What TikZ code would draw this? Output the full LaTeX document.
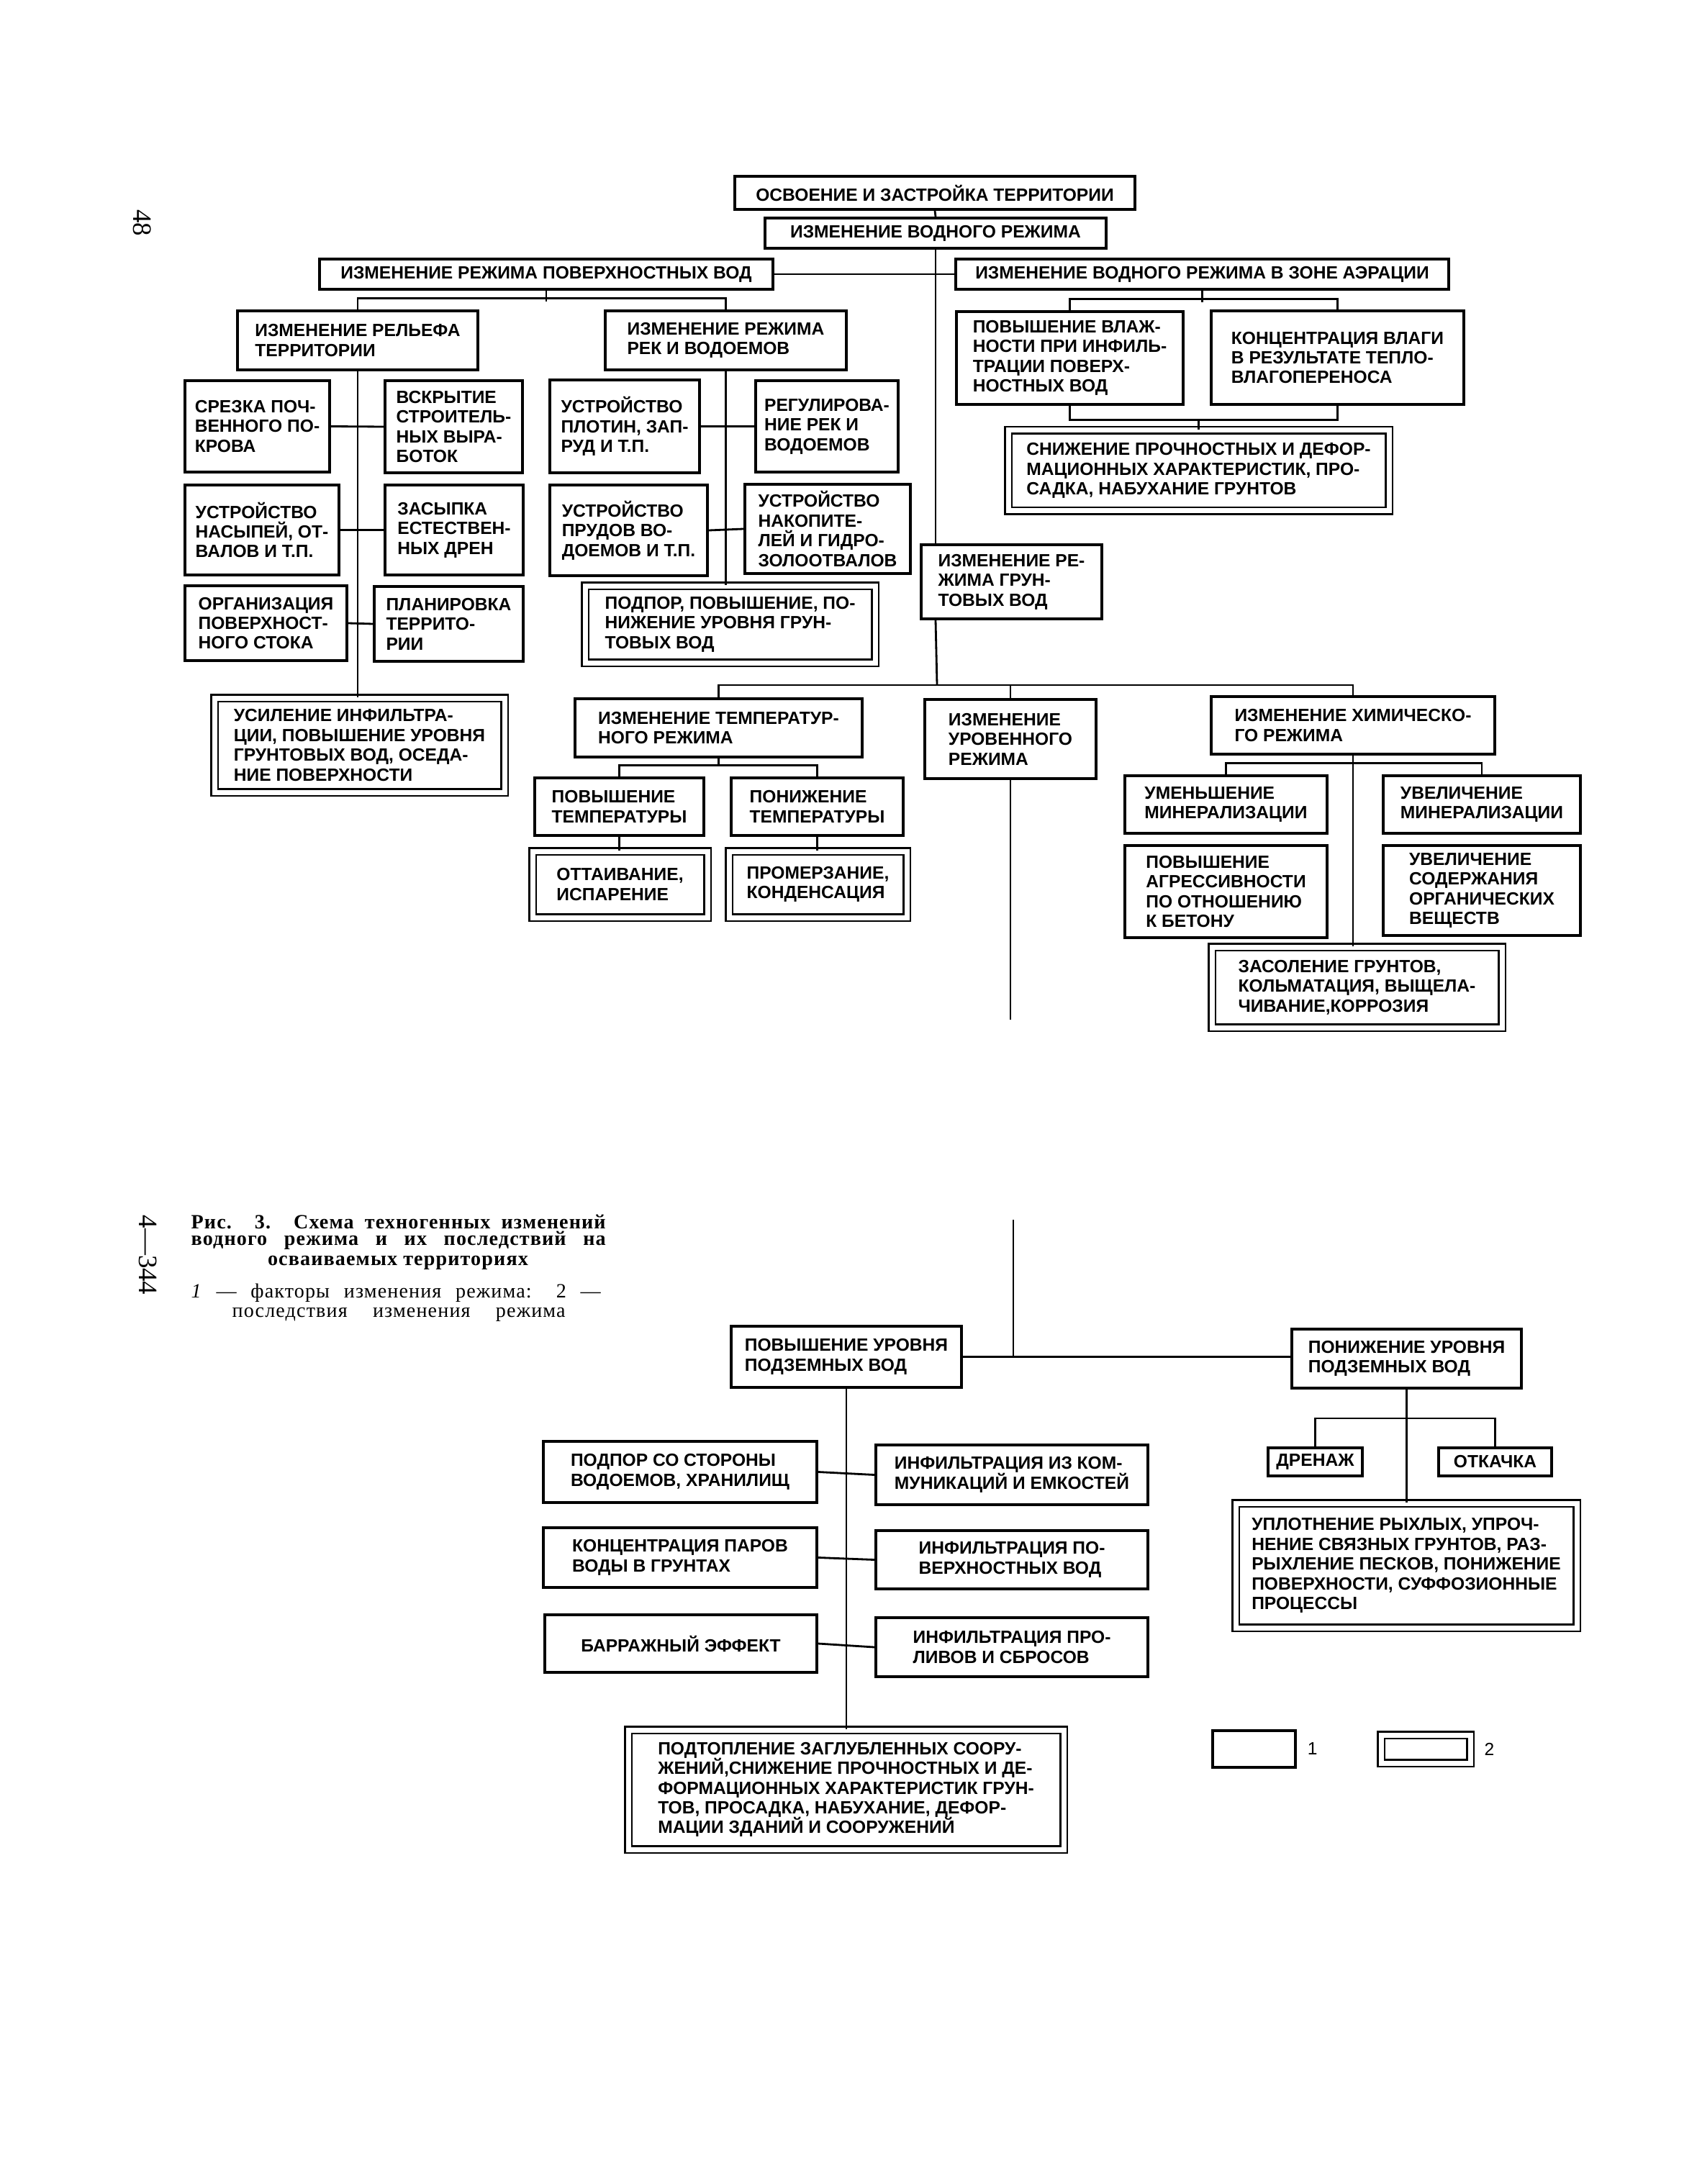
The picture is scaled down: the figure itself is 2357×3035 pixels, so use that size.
\documentclass[tikz,border=0pt]{standalone}
\usepackage{fontspec}
\setmainfont{Liberation Serif}
\newfontfamily\boxfont{Liberation Sans}
\newfontfamily\capfont[LetterSpace=4,Ligatures=TeX]{Liberation Serif}
\usetikzlibrary{calc}
\tikzset{
  fac/.style={draw,line width=1.2pt,fill=white,align=left,inner sep=0pt,
    font=\boxfont\bfseries\fontsize{7}{7.8}\selectfont},
  csq/.style={fac,line width=0.7pt,double,double distance=0.7mm},
  link/.style={line width=0.8pt},
  capline/.style={anchor=base west,inner sep=0pt,font=\capfont\fontsize{8}{9}\selectfont},
}
% single box: name, x1, y1, x2, y2, text
\newcommand{\bxf}[6]{%
  \pgfmathsetmacro{\bxw}{#4-#2}\pgfmathsetmacro{\bxh}{#5-#3}%
  \node[fac,minimum width=\bxw*0.1mm,minimum height=\bxh*0.1mm] (#1) at ({(#2+#4)/2},{(#3+#5)/2}) {#6};}
% double box (consequence)
\newcommand{\bxc}[6]{%
  \pgfmathsetmacro{\bxw}{#4-#2-12}\pgfmathsetmacro{\bxh}{#5-#3-12}%
  \node[csq,minimum width=\bxw*0.1mm,minimum height=\bxh*0.1mm] (#1) at ({(#2+#4)/2},{(#3+#5)/2}) {#6};}

\begin{document}
\begin{tikzpicture}[x=0.1mm,y=-0.1mm]
\fill[white] (0,0) rectangle (2357,3035);
\path[use as bounding box] (0,0) rectangle (2357,3035);

% page numbers
\node[rotate=-90,font=\fontsize{10.5}{12}\selectfont] (pg) at (198,310) {48};
\node[rotate=-90,font=\fontsize{10.5}{12}\selectfont] (sig) at (206,1744) {4---344};

% upper part
\bxf{osv}{1021}{245}{1577}{291}{ОСВОЕНИЕ И ЗАСТРОЙКА ТЕРРИТОРИИ}
\bxf{vodn}{1063}{303}{1537}{345}{ИЗМЕНЕНИЕ ВОДНОГО РЕЖИМА}
\bxf{pov}{444}{360}{1074}{402}{ИЗМЕНЕНИЕ РЕЖИМА ПОВЕРХНОСТНЫХ ВОД}
\bxf{aer}{1328}{360}{2013}{402}{ИЗМЕНЕНИЕ ВОДНОГО РЕЖИМА В ЗОНЕ АЭРАЦИИ}

\bxf{rel}{330}{432}{664}{514}{ИЗМЕНЕНИЕ РЕЛЬЕФА\\ТЕРРИТОРИИ}
\bxf{rek}{841}{432}{1176}{514}{ИЗМЕНЕНИЕ РЕЖИМА\\РЕК И ВОДОЕМОВ}
\bxf{srez}{257}{529}{458}{656}{СРЕЗКА ПОЧ-\\ВЕННОГО ПО-\\КРОВА}
\bxf{vskr}{535}{529}{726}{657}{ВСКРЫТИЕ\\СТРОИТЕЛЬ-\\НЫХ ВЫРА-\\БОТОК}
\bxf{nasyp}{257}{674}{471}{799}{УСТРОЙСТВО\\НАСЫПЕЙ, ОТ-\\ВАЛОВ И Т.П.}
\bxf{zasyp}{535}{674}{727}{799}{ЗАСЫПКА\\ЕСТЕСТВЕН-\\НЫХ ДРЕН}
\bxf{organ}{257}{814}{482}{918}{ОРГАНИЗАЦИЯ\\ПОВЕРХНОСТ-\\НОГО СТОКА}
\bxf{plan}{520}{815}{727}{919}{ПЛАНИРОВКА\\ТЕРРИТО-\\РИИ}
\bxc{usil}{292}{964}{707}{1107}{УСИЛЕНИЕ ИНФИЛЬТРА-\\ЦИИ, ПОВЫШЕНИЕ УРОВНЯ\\ГРУНТОВЫХ ВОД, ОСЕДА-\\НИЕ ПОВЕРХНОСТИ}
\bxf{plot}{764}{528}{972}{657}{УСТРОЙСТВО\\ПЛОТИН, ЗАП-\\РУД И Т.П.}
\bxf{regul}{1050}{529}{1248}{656}{РЕГУЛИРОВА-\\НИЕ РЕК И\\ВОДОЕМОВ}
\bxf{prud}{764}{674}{983}{800}{УСТРОЙСТВО\\ПРУДОВ ВО-\\ДОЕМОВ И Т.П.}
\bxf{nakop}{1035}{673}{1265}{797}{УСТРОЙСТВО\\НАКОПИТЕ-\\ЛЕЙ И ГИДРО-\\ЗОЛООТВАЛОВ}
\bxc{podp}{807}{808}{1222}{927}{ПОДПОР, ПОВЫШЕНИЕ, ПО-\\НИЖЕНИЕ УРОВНЯ ГРУН-\\ТОВЫХ ВОД}

\bxf{vlazh}{1329}{433}{1644}{562}{ПОВЫШЕНИЕ ВЛАЖ-\\НОСТИ ПРИ ИНФИЛЬ-\\ТРАЦИИ ПОВЕРХ-\\НОСТНЫХ ВОД}
\bxf{konc}{1683}{432}{2034}{562}{КОНЦЕНТРАЦИЯ ВЛАГИ\\В РЕЗУЛЬТАТЕ ТЕПЛО-\\ВЛАГОПЕРЕНОСА}
\bxc{sniz}{1395}{592}{1936}{716}{СНИЖЕНИЕ ПРОЧНОСТНЫХ И ДЕФОР-\\МАЦИОННЫХ ХАРАКТЕРИСТИК, ПРО-\\САДКА, НАБУХАНИЕ ГРУНТОВ}
\bxf{grunt}{1280}{757}{1531}{860}{ИЗМЕНЕНИЕ РЕ-\\ЖИМА ГРУН-\\ТОВЫХ ВОД}

\bxf{temp}{799}{971}{1198}{1052}{ИЗМЕНЕНИЕ ТЕМПЕРАТУР-\\НОГО РЕЖИМА}
\bxf{urov}{1285}{972}{1523}{1082}{ИЗМЕНЕНИЕ\\УРОВЕННОГО\\РЕЖИМА}
\bxf{chem}{1683}{968}{2077}{1048}{ИЗМЕНЕНИЕ ХИМИЧЕСКО-\\ГО РЕЖИМА}
\bxf{povt}{743}{1081}{978}{1161}{ПОВЫШЕНИЕ\\ТЕМПЕРАТУРЫ}
\bxf{pont}{1016}{1081}{1255}{1161}{ПОНИЖЕНИЕ\\ТЕМПЕРАТУРЫ}
\bxc{ott}{734}{1177}{989}{1281}{ОТТАИВАНИЕ,\\ИСПАРЕНИЕ}
\bxc{prom}{1007}{1177}{1266}{1281}{ПРОМЕРЗАНИЕ,\\КОНДЕНСАЦИЯ}
\bxf{umen}{1563}{1078}{1844}{1158}{УМЕНЬШЕНИЕ\\МИНЕРАЛИЗАЦИИ}
\bxf{uvel}{1922}{1078}{2196}{1158}{УВЕЛИЧЕНИЕ\\МИНЕРАЛИЗАЦИИ}
\bxf{agr}{1563}{1175}{1844}{1303}{ПОВЫШЕНИЕ\\АГРЕССИВНОСТИ\\ПО ОТНОШЕНИЮ\\К БЕТОНУ}
\bxf{orgv}{1922}{1175}{2196}{1300}{УВЕЛИЧЕНИЕ\\СОДЕРЖАНИЯ\\ОРГАНИЧЕСКИХ\\ВЕЩЕСТВ}
\bxc{zas}{1678}{1310}{2093}{1434}{ЗАСОЛЕНИЕ ГРУНТОВ,\\КОЛЬМАТАЦИЯ, ВЫЩЕЛА-\\ЧИВАНИЕ,КОРРОЗИЯ}

% connectors, upper part
\draw[link] (osv.south) -- (vodn.north);
\draw[link] (pov.east) -- (aer.west);
\draw[link] (vodn.south) -- (vodn.south |- grunt.north);
\coordinate (tbar) at (1302,952);
\draw[link] (grunt.south -| vodn.south) -- (tbar);
\draw[link] (temp.north) |- (tbar) -| (chem.north);
\draw[link] (urov.north) -- (urov.north |- tbar);
\draw[link] (pov.south) -- ++(0,15);
\draw[link] (rel.north) -- ++(0,-15) -| (rek.north);
\draw[link] (rel.south) -- (rel.south |- usil.north);
\draw[link] (srez.east) -- (vskr.west);
\draw[link] (nasyp.east) -- (zasyp.west);
\draw[link] (organ.east) -- (plan.west);
\draw[link] (rek.south) -- (rek.south |- podp.north);
\draw[link] (plot.east) -- (regul.west);
\draw[link] (prud.east) -- (nakop.west);
\draw[link] (aer.south) -- ++(0,16);
\draw[link] (vlazh.north) -- ++(0,-15) -| (konc.north);
\draw[link] (vlazh.south) -- ++(0,19) coordinate (vb) -| (konc.south);
\draw[link] (sniz.north) -- (sniz.north |- vb);
\draw[link] (povt.north) -- ++(0,-15) coordinate (tt) -| (pont.north);
\draw[link] (temp.south) -- (temp.south |- tt);
\draw[link] (povt.south) -- (povt.south |- ott.north);
\draw[link] (pont.south) -- (pont.south |- prom.north);
\draw[link] (umen.north) -- ++(0,-15) -| (uvel.north);
\draw[link] (chem.south) -- (chem.south |- zas.north);
\coordinate (cut) at (1404,1417);
\draw[link] (urov.south) -- (cut);

% lower part
\bxf{povu}{1016}{1843}{1336}{1928}{ПОВЫШЕНИЕ УРОВНЯ\\ПОДЗЕМНЫХ ВОД}
\bxf{ponu}{1795}{1847}{2114}{1929}{ПОНИЖЕНИЕ УРОВНЯ\\ПОДЗЕМНЫХ ВОД}
\bxf{podps}{755}{2003}{1135}{2088}{ПОДПОР СО СТОРОНЫ\\ВОДОЕМОВ, ХРАНИЛИЩ}
\bxf{infk}{1217}{2008}{1595}{2091}{ИНФИЛЬТРАЦИЯ ИЗ КОМ-\\МУНИКАЦИЙ И ЕМКОСТЕЙ}
\bxf{konp}{755}{2123}{1135}{2206}{КОНЦЕНТРАЦИЯ ПАРОВ\\ВОДЫ В ГРУНТАХ}
\bxf{infp}{1217}{2127}{1595}{2208}{ИНФИЛЬТРАЦИЯ ПО-\\ВЕРХНОСТНЫХ ВОД}
\bxf{barr}{757}{2244}{1135}{2324}{БАРРАЖНЫЙ ЭФФЕКТ}
\bxf{infs}{1217}{2248}{1595}{2330}{ИНФИЛЬТРАЦИЯ ПРО-\\ЛИВОВ И СБРОСОВ}
\bxc{podt}{867}{2398}{1484}{2576}{ПОДТОПЛЕНИЕ ЗАГЛУБЛЕННЫХ СООРУ-\\ЖЕНИЙ,СНИЖЕНИЕ ПРОЧНОСТНЫХ И ДЕ-\\ФОРМАЦИОННЫХ ХАРАКТЕРИСТИК ГРУН-\\ТОВ, ПРОСАДКА, НАБУХАНИЕ, ДЕФОР-\\МАЦИИ ЗДАНИЙ И СООРУЖЕНИЙ}
\bxf{dren}{1762}{2012}{1893}{2051}{ДРЕНАЖ}
\bxf{otk}{1999}{2012}{2156}{2051}{ОТКАЧКА}
\bxc{uplt}{1711}{2083}{2197}{2268}{УПЛОТНЕНИЕ РЫХЛЫХ, УПРОЧ-\\НЕНИЕ СВЯЗНЫХ ГРУНТОВ, РАЗ-\\РЫХЛЕНИЕ ПЕСКОВ, ПОНИЖЕНИЕ\\ПОВЕРХНОСТИ, СУФФОЗИОННЫЕ\\ПРОЦЕССЫ}

\coordinate (brk) at (1408,1695);
\draw[link] (brk) -- (brk |- povu.east);
\draw[link] (povu.east) -- (povu.east -| ponu.west);
\draw[link] (povu.south) -- (povu.south |- podt.north);
\draw[link] (podps.east) -- (infk.west);
\draw[link] (konp.east) -- (infp.west);
\draw[link] (barr.east) -- (infs.west);
\draw[link] (ponu.south) -- (ponu.south |- uplt.north);
\draw[link] (dren.north) -- ++(0,-39) -| (otk.north);

% legend
\bxf{leg1}{1685}{2405}{1800}{2456}{}
\bxc{leg2}{1913}{2405}{2049}{2456}{}
\node[anchor=west,inner sep=4pt,font=\boxfont\fontsize{7}{8}\selectfont] (n1) at (leg1.east) {1};
\node[anchor=west,inner sep=5pt,font=\boxfont\fontsize{7}{8}\selectfont] (n2) at (leg2.east) {2};

% caption
\node[capline] (c1) at (265,1707) {\makebox[57.6mm][s]{\bfseries Рис. 3. Схема техногенных изменений}};
\node[capline] (c2) at (265,1730) {\makebox[57.6mm][s]{\bfseries водного режима и их последствий на}};
\node[capline,anchor=base] (c3) at (553,1758) {\bfseries осваиваемых территориях};
\node[capline] (c4) at (265,1803) {\makebox[56.9mm][s]{\textit{1} — факторы изменения режима: 2 —}};
\node[capline] (c5) at (322,1830) {\makebox[46.3mm][s]{последствия изменения режима}};
\end{tikzpicture}
\end{document}
